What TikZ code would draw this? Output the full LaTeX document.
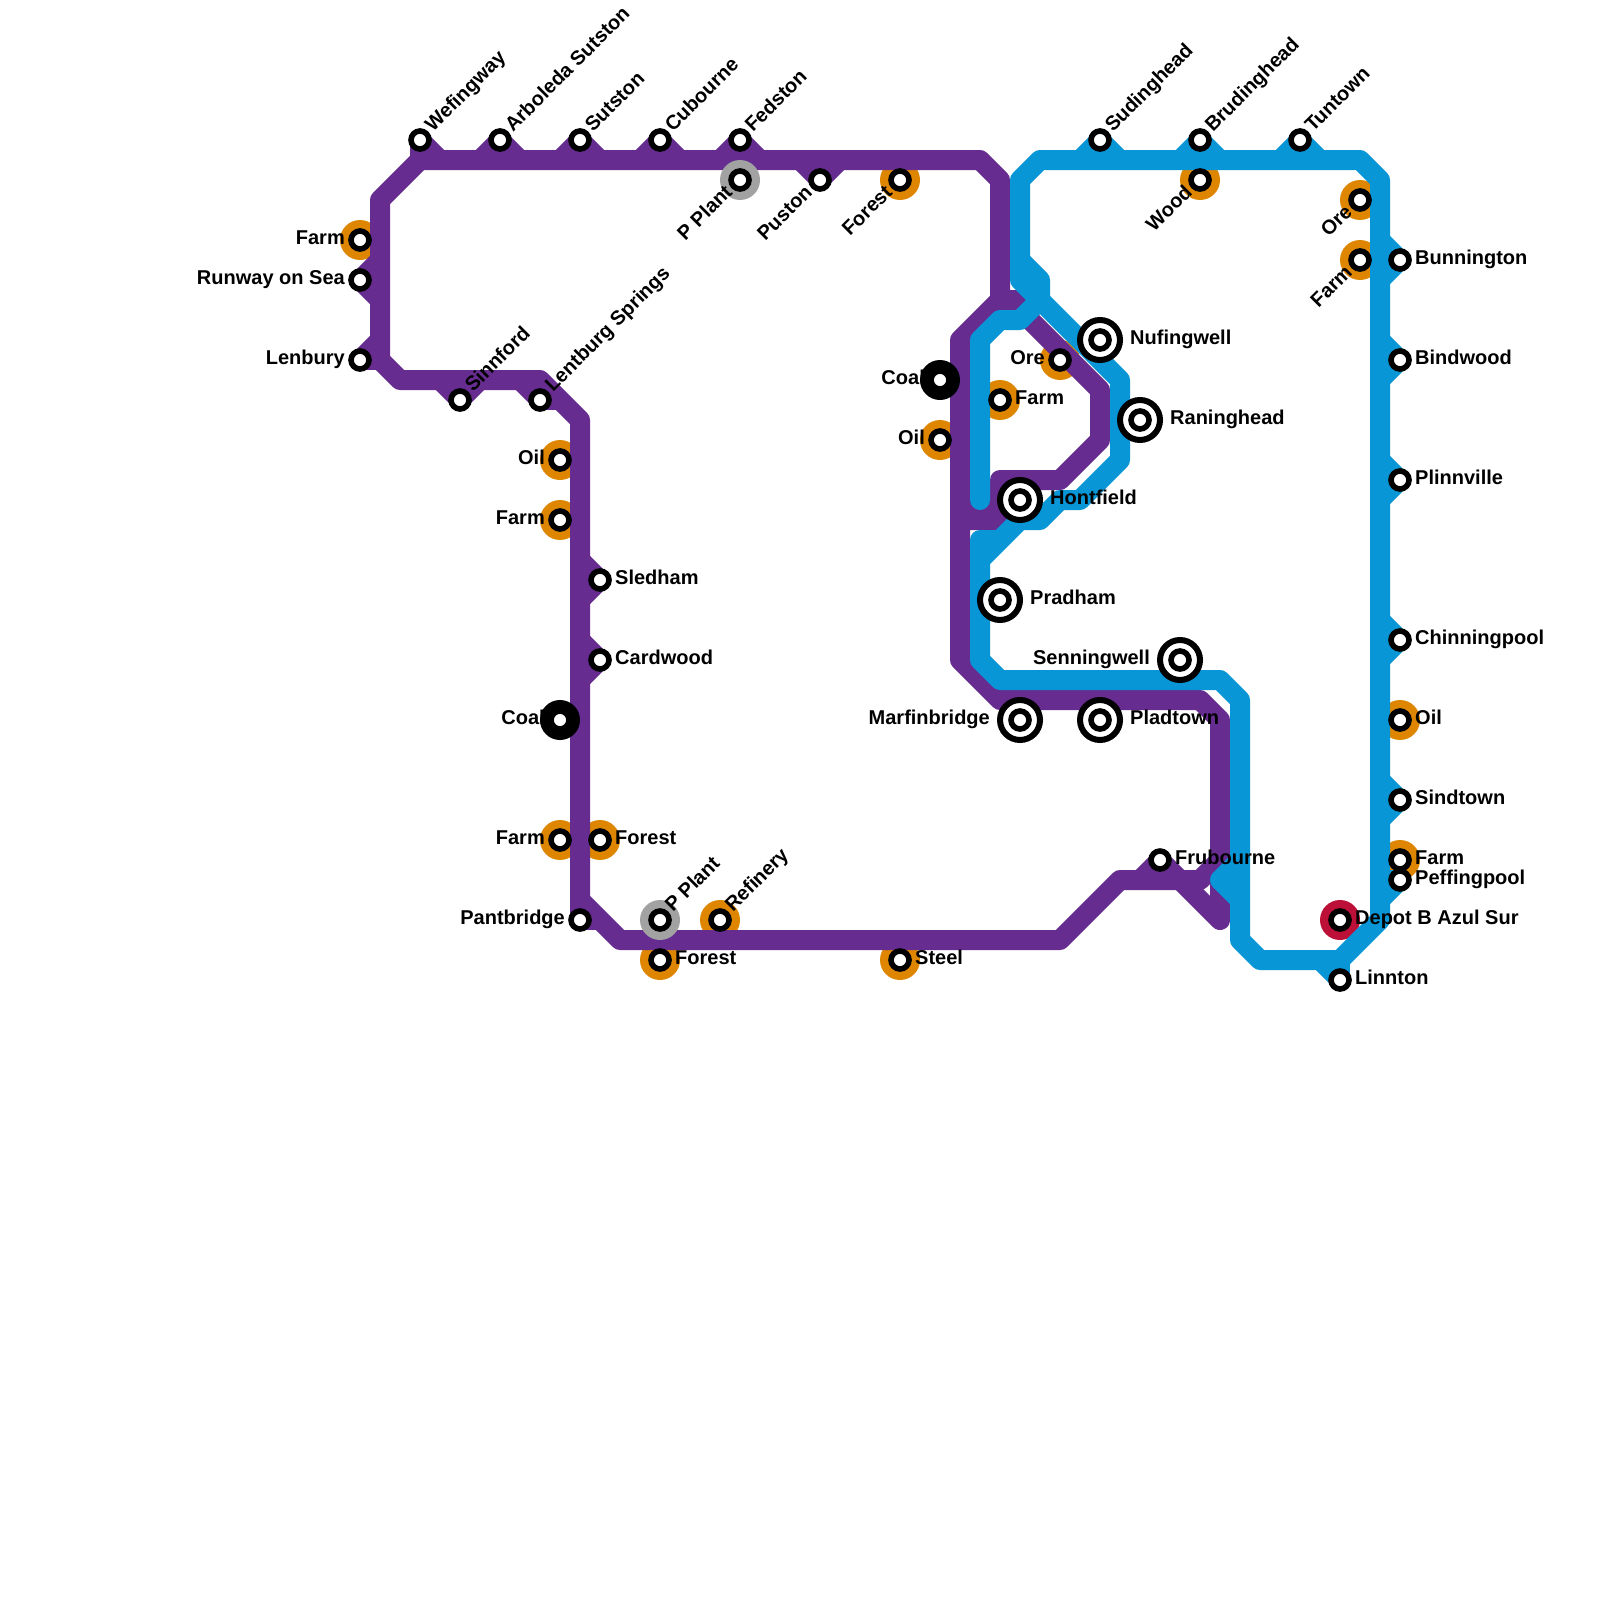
\documentclass[tikz,border=0pt]{standalone}
\usepackage{fontspec}
\setmainfont{Liberation Sans}
\definecolor{lp}{HTML}{662C90}
\definecolor{lb}{HTML}{0896D7}
\definecolor{co}{HTML}{DF8600}
\definecolor{cg}{HTML}{A2A2A2}
\definecolor{cr}{HTML}{BD1038}
\tikzset{
  pl/.style={draw=lp,line width=20pt,line join=round},
  bl/.style={draw=lb,line width=20pt,line join=round},
  orangedisc/.style={circle,fill=co,minimum size=40pt,inner sep=0pt,outer sep=0pt},
  graydisc/.style={circle,fill=cg,minimum size=40pt,inner sep=0pt,outer sep=0pt},
  reddisc/.style={circle,fill=cr,minimum size=40pt,inner sep=0pt,outer sep=0pt},
  blackdisc/.style={circle,fill=black,minimum size=40pt,inner sep=0pt,outer sep=0pt},
  ringst/.style={circle,draw=black,fill=white,line width=5.6pt,minimum size=18pt,inner sep=0pt,outer sep=0pt},
  bigring/.style={circle,draw=black,fill=white,line width=6pt,minimum size=40pt,inner sep=0pt,outer sep=0pt},
  txt/.style={inner sep=0pt,font=\fontsize{20}{20}\selectfont\bfseries},
  rl/.style={txt,anchor=mid west,xshift=15pt,yshift=-2pt},
  ll/.style={txt,anchor=mid east,xshift=-15pt,yshift=-2pt},
  rr/.style={txt,anchor=mid west,xshift=30pt,yshift=-2pt},
  lr/.style={txt,anchor=mid east,xshift=-30pt,yshift=-2pt},
  up/.style={txt,anchor=mid west,xshift=11pt,yshift=9pt,rotate=45},
  dn/.style={txt,anchor=mid east,xshift=-8.5pt,yshift=-11.5pt,rotate=45},
}
\newcommand{\Sp}[3]{\draw[pl] (#1) -- ++(#2,#3);}
\newcommand{\Sb}[3]{\draw[bl] (#1) -- ++(#2,#3);}
\begin{document}
\begin{tikzpicture}[x=1pt,y=-1pt]
\useasboundingbox[fill=white] (0,0) rectangle (1600,1600);
% station positions
\foreach \n/\x/\y in {wef/420/140,arb/500/140,sut/580/140,cub/660/140,fed/740/140,ppa/740/180,pus/820/180,fra/900/180,
 fal/360/240,run/360/280,len/360/360,sin/460/400,lsp/540/400,oil/560/460,fab/560/520,sle/600/580,car/600/660,coa/560/720,
 fac/560/840,frb/600/840,pan/580/920,ppb/660/920,frc/660/960,ref/720/920,ste/900/960,
 cob/940/380,oib/940/440,fad/1000/400,orb/1060/360,hon/1020/500,nuf/1100/340,ran/1140/420,pra/1000/600,sen/1180/660,
 mar/1020/720,pla/1100/720,fru/1160/860,sud/1100/140,bru/1200/140,woo/1200/180,tun/1300/140,orc/1360/200,fae/1360/260,
 bun/1400/260,bin/1400/360,pli/1400/480,chi/1400/640,oic/1400/720,sid/1400/800,faf/1400/860,pef/1400/880,dep/1340/920,lin/1340/980}
 {\coordinate (\n) at (\x,\y);}
% discs under the lines
\foreach \n in {fra,fal,oil,fab,fac,frb,frc,ref,ste,oib,fad,orb,woo,orc,fae,oic,faf}
 {\node[orangedisc] at (\n) {};}
\node[reddisc] at (dep) {};
% purple line
\draw[pl] (380,360) -- (380,200) -- (420,160) -- (980,160) -- (1000,180) -- (1000,300) -- (960,340) -- (960,660) -- (1000,700) -- (1200,700) -- (1220,720) -- (1220,920) -- (1180,880) -- (1120,880) -- (1060,940) -- (620,940) -- (580,900) -- (580,420) -- (540,380) -- (400,380) -- (380,360) -- (380,340);
\draw[pl] (1000,300) -- (1030,300);
\draw[pl] (960,520) -- (1000,520) -- (1000,480) -- (1060,480) -- (1100,440) -- (1100,390) -- (1020,310);
\draw[pl] (960,510) -- (1000,510);
\draw[pl] (1000,520) -- (1020,500);
\draw[pl] (1220,860) -- (1200,880) -- (1180,880);
\Sp{wef}{0}{20}\Sp{wef}{20}{20}
\foreach \n in {arb,sut,cub,fed,fru} {\Sp{\n}{-20}{20}\Sp{\n}{20}{20}}
\Sp{pus}{-20}{-20}\Sp{pus}{20}{-20}
\Sp{run}{20}{-20}\Sp{run}{20}{20}
\Sp{len}{20}{-20}\Sp{len}{20}{0}
\Sp{sin}{-20}{-20}\Sp{sin}{20}{-20}
\Sp{lsp}{-20}{-20}\Sp{lsp}{20}{0}
\Sp{sle}{-20}{-20}\Sp{sle}{-20}{20}
\Sp{car}{-20}{-20}\Sp{car}{-20}{20}
\Sp{pan}{0}{-20}\Sp{pan}{20}{0}
% blue line
\draw[bl] (1020,680) -- (1220,680) -- (1240,700) -- (1240,940) -- (1260,960) -- (1340,960) -- (1380,920) -- (1380,180) -- (1360,160) -- (1040,160) -- (1020,180) -- (1020,280) -- (1040,300) -- (1120,380) -- (1120,460) -- (1080,500) -- (1060,500) -- (1040,520) -- (1020,520) -- (980,560) -- (980,660) -- (1000,680) -- (1020,680);
\draw[bl,line cap=round] (980,500) -- (980,340) -- (1000,320) -- (1020,320) -- (1040,300);
\draw[bl] (1020,260) -- (1040,280) -- (1040,300);
\draw[bl] (1000,540) -- (980,540) -- (980,600);
\draw[bl] (1240,860) -- (1220,880) -- (1240,900);
\foreach \n in {sud,bru,tun} {\Sb{\n}{-20}{20}\Sb{\n}{20}{20}}
\foreach \n in {bun,bin,pli,chi,sid} {\Sb{\n}{-20}{-20}\Sb{\n}{-20}{20}}
\Sb{pef}{-20}{20}\Sb{pef}{-20}{0}
\Sb{lin}{-20}{-20}\Sb{lin}{0}{-20}
% discs over the lines
\foreach \n in {ppa,ppb} {\node[graydisc] at (\n) {};}
\foreach \n in {coa,cob} {\node[blackdisc] at (\n) {};}
\foreach \n in {hon,nuf,ran,pra,sen,mar,pla} {\node[bigring] at (\n) {};}
\foreach \n in {wef,arb,sut,cub,fed,ppa,pus,fra,fal,run,len,sin,lsp,oil,fab,sle,car,coa,fac,frb,pan,ppb,frc,ref,ste,cob,oib,fad,orb,hon,nuf,ran,pra,sen,mar,pla,fru,sud,bru,woo,tun,orc,fae,bun,bin,pli,chi,oic,sid,faf,pef,dep,lin}
 {\node[ringst] at (\n) {};}
% labels
\node[up] at (wef) {Wefingway};
\node[up] at (arb) {Arboleda Sutston};
\node[up] at (sut) {Sutston};
\node[up] at (cub) {Cubourne};
\node[up] at (fed) {Fedston};
\node[dn] at (ppa) {P Plant};
\node[dn] at (pus) {Puston};
\node[dn] at (fra) {Forest};
\node[ll] at (fal) {Farm};
\node[ll] at (run) {Runway on Sea};
\node[ll] at (len) {Lenbury};
\node[up] at (sin) {Sinnford};
\node[up] at (lsp) {Lentburg Springs};
\node[ll] at (oil) {Oil};
\node[ll] at (fab) {Farm};
\node[rl] at (sle) {Sledham};
\node[rl] at (car) {Cardwood};
\node[ll] at (coa) {Coal};
\node[ll] at (fac) {Farm};
\node[rl] at (frb) {Forest};
\node[ll] at (pan) {Pantbridge};
\node[up] at (ppb) {P Plant};
\node[rl] at (frc) {Forest};
\node[up] at (ref) {Refinery};
\node[rl] at (ste) {Steel};
\node[ll] at (cob) {Coal};
\node[ll] at (oib) {Oil};
\node[rl] at (fad) {Farm};
\node[ll] at (orb) {Ore};
\node[rr] at (hon) {Hontfield};
\node[rr] at (nuf) {Nufingwell};
\node[rr] at (ran) {Raninghead};
\node[rr] at (pra) {Pradham};
\node[lr] at (sen) {Senningwell};
\node[lr] at (mar) {Marfinbridge};
\node[rr] at (pla) {Pladtown};
\node[rl] at (fru) {Frubourne};
\node[up] at (sud) {Sudinghead};
\node[up] at (bru) {Brudinghead};
\node[dn] at (woo) {Wood};
\node[up] at (tun) {Tuntown};
\node[dn] at (orc) {Ore};
\node[dn] at (fae) {Farm};
\node[rl] at (bun) {Bunnington};
\node[rl] at (bin) {Bindwood};
\node[rl] at (pli) {Plinnville};
\node[rl] at (chi) {Chinningpool};
\node[rl] at (oic) {Oil};
\node[rl] at (sid) {Sindtown};
\node[rl] at (faf) {Farm};
\node[rl] at (pef) {Peffingpool};
\node[rl] at (dep) {Depot B Azul Sur};
\node[rl] at (lin) {Linnton};
\end{tikzpicture}
\end{document}
